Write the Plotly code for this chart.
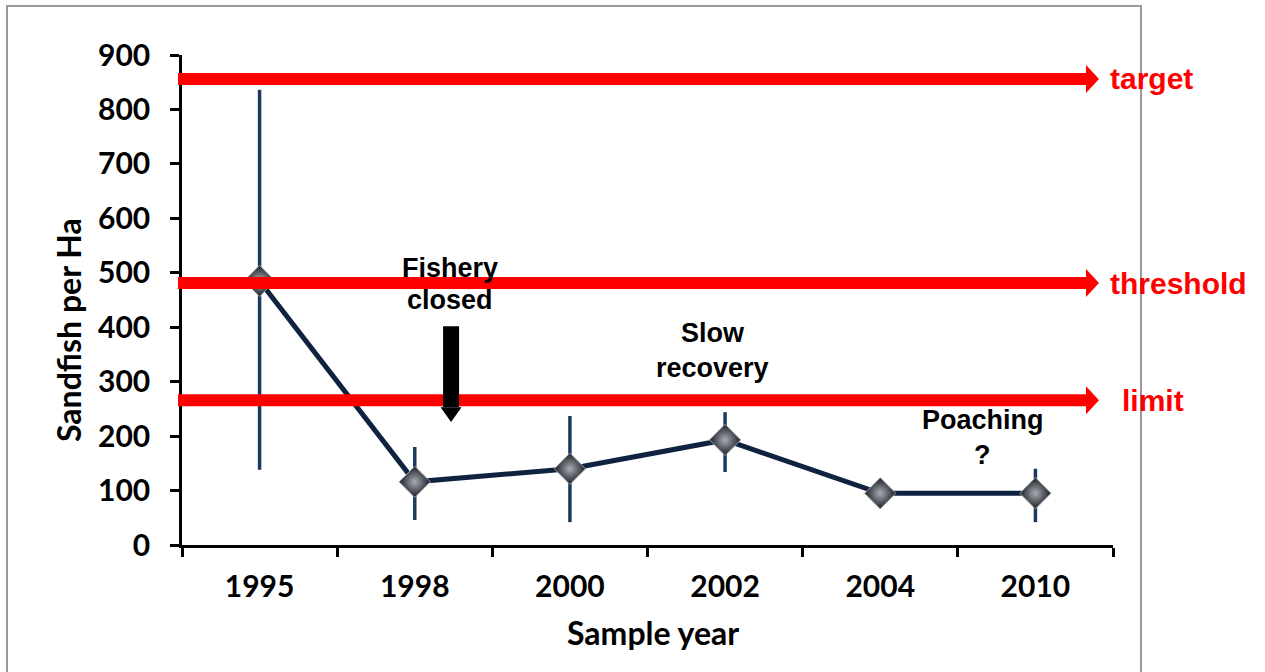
import plotly.graph_objects as go

years = ["1995", "1998", "2000", "2002", "2004", "2010"]
density = [485, 116, 140, 193, 95, 95]
err_plus = [351, 64, 97, 51, 15, 45]
err_minus = [347, 70, 98, 59, 25, 53]

ref_names = ["target", "threshold", "limit"]
ref_values = [856, 481, 266]

notes = [("Fishery", 1.23, 509), ("closed", 1.23, 450),
         ("Slow", 2.92, 389), ("recovery", 2.92, 325),
         ("Poaching", 4.66, 230), ("?", 4.66, 165)]

# closure arrow (category index, y values)
closure_x = 1.234
closure_top, closure_neck, closure_tip = 402, 253, 226

W, H = 1265, 672
PL, PR, PT, PB = 182, 1113, 55, 545  # plot-area edges in px
L, T = PL, PT
R, B = W - PR, H - PB
pw, ph = PR - PL, PB - PT


def xp(sx):
    return (sx - PL) / pw


def yp(sy):
    return (PB - sy) / ph


fig = go.Figure()
fig.add_trace(go.Scatter(
    x=years, y=density, mode="lines+markers",
    line=dict(color="#0f2340", width=5),
    marker=dict(symbol="diamond", size=24, color="#1a1d22",
                gradient=dict(type="radial", color="#a8acb4"),
                line=dict(color="#9ca0a8", width=1)),
    error_y=dict(type="data", array=err_plus, arrayminus=err_minus,
                 color="#1b3a60", thickness=3.5, width=0),
    showlegend=False))

shapes = []
# outer border
shapes.append(dict(type="rect", xref="paper", yref="paper",
                   x0=xp(7), x1=xp(1141), y0=-0.5, y1=yp(6),
                   line=dict(color="#999999", width=2), layer="below"))
ypx = 900 / ph  # data units per pixel
x_start, x_end, x_tip = xp(178), xp(1086), xp(1099)
for v in ref_values:
    shapes.append(dict(type="line", xref="paper", yref="y",
                       x0=x_start, x1=x_end + 0.002, y0=v, y1=v,
                       line=dict(color="#ff0000", width=12)))
    shapes.append(dict(type="path", xref="paper", yref="y",
                       path=f"M {x_end},{v + 14 * ypx} L {x_tip},{v} L {x_end},{v - 14 * ypx} Z",
                       fillcolor="#ff0000", line=dict(width=0)))
# closure arrow
cat_w = pw / 6
hw = 8 / cat_w
hh = 10.5 / cat_w
shapes.append(dict(type="rect", xref="x", yref="y",
                   x0=closure_x - hw, x1=closure_x + hw,
                   y0=closure_neck, y1=closure_top,
                   fillcolor="black", line=dict(width=0)))
shapes.append(dict(type="path", xref="x", yref="y",
                   path=f"M {closure_x - hh},{closure_neck} L {closure_x + hh},{closure_neck} L {closure_x},{closure_tip} Z",
                   fillcolor="black", line=dict(width=0)))

annotations = []
for name, v in zip(ref_names, ref_values):
    xoff = 1120 if name == "limit" else 1108
    annotations.append(dict(x=xp(xoff), xref="paper", y=v, yref="y",
                            text=f"<b>{name}</b>", showarrow=False, xanchor="left", yanchor="middle",
                            font=dict(family="Liberation Sans, Arial", size=30, color="#ff0000")))
for txt, xx, yy in notes:
    annotations.append(dict(x=xx, xref="x", y=yy, yref="y", text=f"<b>{txt}</b>",
                            showarrow=False, xanchor="center", yanchor="middle",
                            font=dict(family="Liberation Sans, Arial", size=27, color="black")))
annotations.append(dict(x=xp(68), xref="paper", y=yp(330), yref="paper",
                        text="<b>Sandfish per Ha</b>", textangle=-90, showarrow=False,
                        xanchor="center", yanchor="middle",
                        font=dict(family="Lato", size=32, color="black")))
annotations.append(dict(x=xp(653), xref="paper", y=yp(632), yref="paper",
                        text="<b>Sample year</b>", showarrow=False,
                        xanchor="center", yanchor="middle",
                        font=dict(family="Lato", size=32, color="black")))

yt = [0, 100, 200, 300, 400, 500, 600, 700, 800, 900]
fig.update_layout(
    width=W, height=H, margin=dict(l=L, r=R, t=T, b=B),
    paper_bgcolor="white", plot_bgcolor="white",
    shapes=shapes, annotations=annotations,
    xaxis=dict(type="category", range=[-0.5, 5.5], tickson="boundaries",
               tickvals=years, ticktext=[f"<b>{y}</b>" for y in years],
               ticks="outside", ticklen=9, tickwidth=2.5, tickcolor="black",
               showline=True, linecolor="black", linewidth=2.5, showgrid=False,
               tickfont=dict(family="Lato", size=30, color="black"),
               ticklabelstandoff=13),
    yaxis=dict(range=[0, 900], tickvals=yt, ticktext=[f"<b>{v}</b>" for v in yt],
               ticks="outside", ticklen=9, tickwidth=2.5, tickcolor="black",
               showline=True, linecolor="black", linewidth=2.5, showgrid=False, zeroline=False,
               tickfont=dict(family="Lato", size=30, color="black"),
               ticklabelstandoff=14),
)
fig.write_html("out.html", config={"displayModeBar": False},
               post_script="document.body.style.margin='0px';document.body.style.overflow='hidden';")
